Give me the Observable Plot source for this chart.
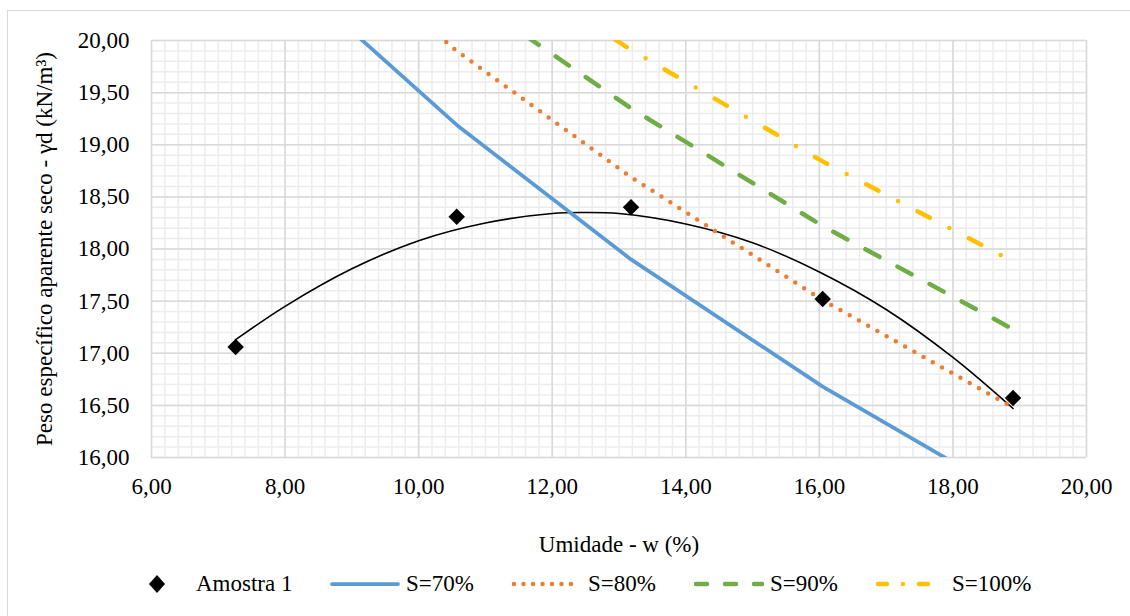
<!DOCTYPE html>
<html>
<head>
<meta charset="utf-8">
<script src="https://cdn.jsdelivr.net/npm/d3@7"></script>
<script src="https://cdn.jsdelivr.net/npm/@observablehq/plot@0.6"></script>
<style>
  html, body { margin: 0; padding: 0; background: #fff; }
  #wrap { position: relative; width: 1130px; height: 616px; overflow: hidden; background: #fff;
          font-family: "Liberation Serif", serif; }
  #border { position: absolute; left: 7px; top: 10px; right: -5px; bottom: -5px;
            border-top: 1.5px solid #d9d9d9; border-left: 1.5px solid #d9d9d9; }
  #chart { position: absolute; left: 0; top: 0; }
  #chart svg, #chart svg text, #chart svg g { font-family: "Liberation Serif", serif !important; font-variant: normal !important; }
  #legend { position: absolute; left: 148px; top: 569px; height: 30px; display: flex; align-items: center;
            font-size: 23px; color: #000; font-family: "Liberation Serif", serif; }
  .item { width: 182px; display: flex; align-items: center; white-space: nowrap; }
  .item svg { display: block; }
</style>
</head>
<body>
<div id="wrap">
  <div id="border"></div>
  <div id="chart"></div>
  <div id="legend"></div>
</div>
<script>
// ---- data ----
const xTicks = [6, 8, 10, 12, 14, 16, 18, 20];
const yTicks = [16, 16.5, 17, 17.5, 18, 18.5, 19, 19.5, 20];

// Amostra 1 (moisture %, dry unit weight kN/m3)
const sampleW = [7.26, 10.57, 13.18, 16.05, 18.90];
const sampleGd = [17.06, 18.31, 18.40, 17.52, 16.57];

// Trend line (2nd order)
const trendW = [7.26, 8, 9, 10, 11, 12, 12.45, 13, 14, 15, 16, 17, 18, 18.9];
const trendGd = [17.13, 17.45, 17.81, 18.08, 18.25, 18.34, 18.35, 18.34, 18.24, 18.06, 17.78, 17.42, 16.96, 16.47];

// Saturation curves at the sample moisture contents
const satW = [7.26, 10.57, 13.18, 16.05, 18.90];
const s70 = [21.09, 19.19, 17.90, 16.68, 15.62];
const s80 = [21.69, 19.90, 18.69, 17.51, 16.48];
const s90 = [22.17, 20.50, 19.35, 18.22, 17.23];
const s100 = [22.57, 21.00, 19.91, 18.84, 17.88];

const seriesNames = ["S=70%", "S=80%", "S=90%", "S=100%"];
const seriesValues = [s70, s80, s90, s100];

// ---- styles ----
const styles = {
  "S=70%": {stroke: "#5B9BD5", strokeWidth: 3.75, strokeDasharray: null, legendDash: null},
  "S=80%": {stroke: "#ED7D31", strokeWidth: 4.5, strokeDasharray: "0 10.6", legendDash: "0 9.5"},
  "S=90%": {stroke: "#70AD47", strokeWidth: 4.5, strokeDasharray: "16 20.5", legendDash: "11 18"},
  "S=100%": {stroke: "#FFC000", strokeWidth: 4.5, strokeDasharray: "14 22 0 22", legendDash: "9 16 0 16"}
};

const fmt = d => d.toFixed(2).replace(".", ",");
const FONT = "Liberation Serif";

const samples = sampleW.map((w, i) => ({w, g: sampleGd[i]}));
const trend = trendW.map((w, i) => ({w, g: trendGd[i]}));

const minorX = d3.range(6, 20.001, 0.2).map(v => +v.toFixed(2));
const minorY = d3.range(16, 20.001, 0.1).map(v => +v.toFixed(2));

const satMarks = seriesNames.map((name, k) => {
  const data = satW.map((w, i) => ({w, g: seriesValues[k][i]}));
  const s = styles[name];
  const opts = {x: "w", y: "g", clip: true, stroke: s.stroke, strokeWidth: s.strokeWidth, strokeLinecap: "round", strokeLinejoin: "round"};
  if (s.strokeDasharray) opts.strokeDasharray = s.strokeDasharray;
  return Plot.line(data, opts);
});

const plot = Plot.plot({
  width: 1130,
  height: 560,
  marginLeft: 151,
  marginRight: 44,
  marginTop: 40,
  marginBottom: 103,
  style: {fontFamily: FONT, fontSize: "23px", color: "#000", background: "transparent", overflow: "visible"},
  x: {domain: [6, 20]},
  y: {domain: [16, 20]},
  marks: [
    Plot.gridX(minorX, {stroke: "#ececec", strokeOpacity: 1, strokeWidth: 1.5}),
    Plot.gridY(minorY, {stroke: "#ececec", strokeOpacity: 1, strokeWidth: 1.5}),
    Plot.gridX(xTicks, {stroke: "#d9d9d9", strokeOpacity: 1, strokeWidth: 1.5}),
    Plot.gridY(yTicks, {stroke: "#d9d9d9", strokeOpacity: 1, strokeWidth: 1.5}),
    Plot.axisX(xTicks, {tickSize: 0, tickPadding: 20, tickFormat: fmt, fontSize: 23, fontFamily: FONT,
      label: "Umidade - w (%)", labelAnchor: "center", labelOffset: 94, labelArrow: "none"}),
    Plot.axisY(yTicks, {tickSize: 0, tickPadding: 22, tickFormat: fmt, fontSize: 23, fontFamily: FONT,
      label: "Peso específico aparente seco - γd (kN/m³)", labelAnchor: "center", labelOffset: 116, labelArrow: "none"}),
    Plot.line(trend, {x: "w", y: "g", stroke: "#000", strokeWidth: 1.6, curve: "catmull-rom", clip: true}),
    ...satMarks,
    Plot.dot(samples, {x: "w", y: "g", symbol: "diamond2", r: 7.4, fill: "#000", stroke: "none"})
  ]
});
document.getElementById("chart").appendChild(plot);

// ---- legend ----
const legend = document.getElementById("legend");
const ns = "http://www.w3.org/2000/svg";
function item(swatch, label, swW, gap) {
  const div = document.createElement("div");
  div.className = "item";
  const svg = document.createElementNS(ns, "svg");
  svg.setAttribute("width", swW);
  svg.setAttribute("height", 20);
  swatch(svg);
  svg.style.marginRight = gap + "px";
  div.appendChild(svg);
  const span = document.createElement("span");
  span.textContent = label;
  div.appendChild(span);
  legend.appendChild(div);
}
item(svg => {
  const p = document.createElementNS(ns, "path");
  p.setAttribute("d", "M9,1 L17,10 L9,19 L1,10 Z");
  p.setAttribute("fill", "#000");
  svg.appendChild(p);
}, "Amostra 1", 18, 30);
seriesNames.forEach(name => {
  const s = styles[name];
  item(svg => {
    const l = document.createElementNS(ns, "line");
    l.setAttribute("x1", 2); l.setAttribute("x2", 68);
    l.setAttribute("y1", 10); l.setAttribute("y2", 10);
    l.setAttribute("stroke", s.stroke);
    l.setAttribute("stroke-width", s.strokeWidth);
    l.setAttribute("stroke-linecap", "round");
    if (s.legendDash) l.setAttribute("stroke-dasharray", s.legendDash);
    svg.appendChild(l);
  }, name, 70, 6);
});
</script>
</body>
</html>
